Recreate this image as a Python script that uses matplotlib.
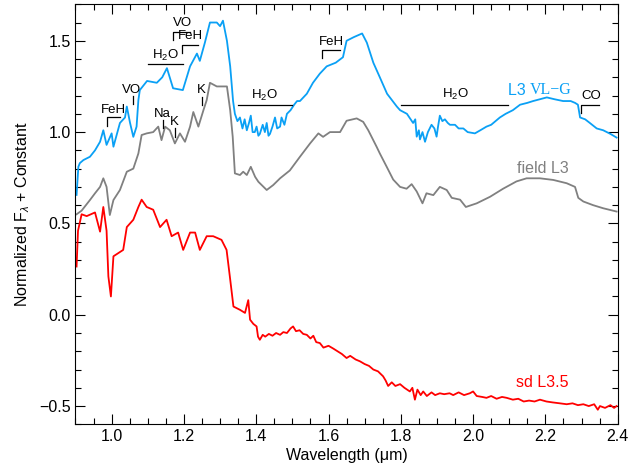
import matplotlib
matplotlib.use("Agg")
import matplotlib.pyplot as plt
from matplotlib.ticker import MultipleLocator

plt.rcParams['font.family'] = ['Liberation Sans', 'DejaVu Sans']
plt.rcParams['mathtext.fontset'] = 'custom'
plt.rcParams['mathtext.rm'] = 'Liberation Sans'
plt.rcParams['mathtext.it'] = 'Liberation Sans:italic'

# L3 VL-G (young) spectrum
wave_young = [0.903, 0.908, 0.912, 0.922, 0.940, 0.954, 0.968, 0.977, 0.986, 1.000,
              1.005, 1.023, 1.037, 1.042, 1.051, 1.060, 1.069, 1.074, 1.078, 1.098,
              1.125, 1.140, 1.153, 1.170, 1.197, 1.217, 1.236, 1.244, 1.258, 1.272,
              1.291, 1.300, 1.308, 1.319, 1.328, 1.336, 1.341, 1.348, 1.355, 1.362,
              1.368, 1.374, 1.380, 1.385, 1.390, 1.396, 1.401, 1.406, 1.410, 1.418,
              1.424, 1.429, 1.434, 1.438, 1.445, 1.452, 1.458, 1.466, 1.470, 1.478,
              1.485, 1.495, 1.505, 1.513, 1.521, 1.540, 1.557, 1.576, 1.595, 1.620,
              1.640, 1.650, 1.670, 1.693, 1.706, 1.724, 1.742, 1.762, 1.789, 1.798,
              1.817, 1.834, 1.840, 1.844, 1.850, 1.853, 1.860, 1.867, 1.875, 1.885,
              1.893, 1.899, 1.903, 1.908, 1.915, 1.922, 1.930, 1.936, 1.950, 1.960,
              1.973, 1.985, 2.005, 2.020, 2.037, 2.050, 2.074, 2.090, 2.110, 2.130,
              2.150, 2.166, 2.185, 2.204, 2.225, 2.249, 2.270, 2.282, 2.290, 2.296,
              2.310, 2.323, 2.342, 2.360, 2.380, 2.397]
flux_young = [0.656, 0.81, 0.83, 0.847, 0.865, 0.90, 0.947, 1.01, 0.93, 0.993,
              0.92, 1.05, 1.08, 1.14, 1.05, 0.974, 1.03, 1.175, 1.23, 1.28,
              1.27, 1.30, 1.35, 1.24, 1.23, 1.36, 1.43, 1.39, 1.49, 1.60,
              1.60, 1.58, 1.61, 1.50, 1.36, 1.17, 1.10, 1.06, 1.08, 1.02,
              1.07, 1.01, 1.05, 1.09, 1.00, 1.00, 1.03, 0.98, 0.99, 1.04,
              1.00, 1.05, 0.98, 0.99, 1.03, 1.08, 1.02, 1.03, 1.08, 1.04,
              1.10, 1.12, 1.15, 1.17, 1.17, 1.21, 1.27, 1.32, 1.36, 1.38,
              1.41, 1.50, 1.52, 1.54, 1.49, 1.38, 1.30, 1.21, 1.14, 1.12,
              1.10, 1.05, 1.07, 0.975, 1.01, 0.96, 1.00, 0.947, 1.00, 1.04,
              1.02, 0.975, 1.03, 1.09, 1.06, 1.07, 1.05, 1.04, 1.04, 1.02,
              1.02, 1.00, 0.993, 1.01, 1.03, 1.04, 1.08, 1.10, 1.12, 1.15,
              1.16, 1.17, 1.18, 1.19, 1.18, 1.17, 1.17, 1.16, 1.15, 1.08,
              1.07, 1.05, 1.02, 1.01, 0.99, 0.97]

# field L3 spectrum
wave_field = [0.903, 0.917, 0.940, 0.954, 0.968, 0.977, 0.986, 0.995, 1.005, 1.023,
              1.042, 1.060, 1.074, 1.083, 1.097, 1.115, 1.129, 1.138, 1.148, 1.161,
              1.175, 1.189, 1.203, 1.217, 1.226, 1.240, 1.254, 1.263, 1.272, 1.291,
              1.319, 1.328, 1.335, 1.341, 1.355, 1.364, 1.374, 1.385, 1.397, 1.406,
              1.429, 1.447, 1.466, 1.493, 1.521, 1.549, 1.572, 1.585, 1.604, 1.632,
              1.650, 1.678, 1.696, 1.710, 1.733, 1.742, 1.761, 1.779, 1.798, 1.816,
              1.830, 1.844, 1.860, 1.871, 1.890, 1.908, 1.927, 1.941, 1.964, 1.980,
              2.010, 2.047, 2.083, 2.120, 2.148, 2.185, 2.222, 2.259, 2.282, 2.291,
              2.305, 2.332, 2.360, 2.397]
flux_field = [0.55, 0.57, 0.628, 0.665, 0.70, 0.747, 0.70, 0.546, 0.628, 0.683,
              0.783, 0.80, 0.883, 0.984, 0.993, 1.0, 1.03, 0.956, 1.03, 1.01,
              0.938, 0.993, 0.947, 1.03, 1.11, 1.03, 1.12, 1.175, 1.27, 1.25,
              1.25, 1.12, 0.974, 0.774, 0.765, 0.783, 0.765, 0.81, 0.755, 0.728,
              0.683, 0.71, 0.747, 0.79, 0.865, 0.938, 0.993, 0.974, 1.0, 1.0,
              1.062, 1.075, 1.056, 1.01, 0.92, 0.883, 0.81, 0.74, 0.70, 0.69,
              0.715, 0.675, 0.61, 0.665, 0.655, 0.70, 0.683, 0.64, 0.63, 0.59,
              0.61, 0.646, 0.69, 0.73, 0.747, 0.747, 0.738, 0.72, 0.70, 0.64,
              0.62, 0.60, 0.583, 0.565]

# sd L3.5 spectrum
wave_sub = [0.903, 0.907, 0.917, 0.931, 0.954, 0.968, 0.977, 0.986, 0.991, 0.998,
            1.005, 1.032, 1.042, 1.060, 1.074, 1.083, 1.097, 1.115, 1.134, 1.152,
            1.166, 1.184, 1.198, 1.217, 1.231, 1.244, 1.263, 1.281, 1.304, 1.318,
            1.327, 1.337, 1.355, 1.369, 1.378, 1.383, 1.392, 1.401, 1.405, 1.410,
            1.418, 1.425, 1.435, 1.445, 1.455, 1.466, 1.475, 1.485, 1.495, 1.502,
            1.510, 1.520, 1.530, 1.540, 1.550, 1.558, 1.566, 1.576, 1.586, 1.600,
            1.613, 1.625, 1.637, 1.650, 1.660, 1.675, 1.687, 1.700, 1.712, 1.724,
            1.737, 1.751, 1.758, 1.765, 1.775, 1.785, 1.798, 1.810, 1.825, 1.832,
            1.839, 1.846, 1.855, 1.862, 1.872, 1.885, 1.895, 1.908, 1.920, 1.935,
            1.945, 1.960, 1.975, 1.991, 2.000, 2.010, 2.025, 2.037, 2.050, 2.065,
            2.080, 2.093, 2.110, 2.125, 2.140, 2.155, 2.170, 2.185, 2.203, 2.220,
            2.240, 2.259, 2.275, 2.290, 2.305, 2.320, 2.335, 2.345, 2.351, 2.365,
            2.380, 2.390, 2.397]
flux_sub = [0.264, 0.46, 0.55, 0.54, 0.56, 0.455, 0.59, 0.46, 0.21, 0.10,
            0.32, 0.355, 0.48, 0.52, 0.59, 0.63, 0.59, 0.575, 0.48, 0.52,
            0.43, 0.45, 0.355, 0.45, 0.45, 0.355, 0.43, 0.43, 0.41, 0.355,
            0.21, 0.045, 0.027, 0.01, 0.08, -0.027, -0.05, -0.064, -0.12, -0.137,
            -0.11, -0.12, -0.105, -0.115, -0.10, -0.11, -0.095, -0.10, -0.075, -0.064,
            -0.09, -0.085, -0.105, -0.11, -0.13, -0.115, -0.15, -0.155, -0.18, -0.17,
            -0.185, -0.20, -0.215, -0.237, -0.225, -0.245, -0.255, -0.27, -0.28, -0.30,
            -0.31, -0.337, -0.36, -0.39, -0.37, -0.39, -0.38, -0.40, -0.42, -0.40,
            -0.465, -0.41, -0.44, -0.42, -0.445, -0.425, -0.44, -0.43, -0.435, -0.43,
            -0.44, -0.425, -0.44, -0.43, -0.42, -0.445, -0.45, -0.455, -0.445, -0.46,
            -0.45, -0.455, -0.465, -0.46, -0.475, -0.47, -0.475, -0.465, -0.475, -0.48,
            -0.485, -0.49, -0.485, -0.495, -0.49, -0.50, -0.49, -0.52, -0.50, -0.51,
            -0.495, -0.51, -0.50]

# feature labels: (text, x, y)
feature_labels = [("FeH", 1.005, 1.122), ("VO", 1.055, 1.229), ("H$_2$O", 1.149, 1.422),
                  ("VO", 1.196, 1.595), ("FeH", 1.217, 1.524), ("Na", 1.141, 1.10),
                  ("K", 1.174, 1.056), ("K", 1.249, 1.232), ("H$_2$O", 1.424, 1.198),
                  ("FeH", 1.608, 1.496), ("H$_2$O", 1.95, 1.204), ("CO", 2.326, 1.198)]
# feature marker lines: (x points, y points)
feature_lines = [([0.988, 0.988, 1.023], [1.033, 1.08, 1.08]),
                 ([1.06, 1.06], [1.153, 1.197]),
                 ([1.10, 1.198], [1.372, 1.372]),
                 ([1.169, 1.169, 1.217], [1.503, 1.548, 1.548]),
                 ([1.194, 1.194, 1.24], [1.432, 1.479, 1.479]),
                 ([1.141, 1.141], [1.022, 1.066]),
                 ([1.175, 1.175], [0.973, 1.022]),
                 ([1.249, 1.249], [1.148, 1.191]),
                 ([1.35, 1.50], [1.151, 1.151]),
                 ([1.581, 1.581, 1.632], [1.404, 1.448, 1.448]),
                 ([1.80, 2.096], [1.151, 1.151]),
                 ([2.298, 2.298, 2.348], [1.104, 1.151, 1.151])]

fig = plt.figure(figsize=(6.29, 4.72), dpi=100)
ax = fig.add_axes([0.12, 0.101, 0.862, 0.890])

ax.plot(wave_young, flux_young, color='#0aa0f5', lw=1.3)
ax.plot(wave_field, flux_field, color='#808080', lw=1.3)
ax.plot(wave_sub, flux_sub, color='#ff0000', lw=1.3)

for xs, ys in feature_lines:
    ax.plot(xs, ys, color='black', lw=0.9)
for txt, x, y in feature_labels:
    ax.text(x, y, txt, fontsize=9.5, ha='center', va='center')

t1 = ax.text(2.096, 1.23, "L3 ", fontsize=11.5, color='#0aa0f5', va='center')
ax.annotate("VL\u2212G", xy=(1, 0.5), xycoords=t1, va='center', ha='left',
            fontsize=11.5, color='#0aa0f5', family='Liberation Serif')
ax.text(2.121, 0.80, "field L3", fontsize=11.5, color='#808080', va='center')
ax.text(2.118, -0.37, "sd L3.5", fontsize=11.5, color='#ff0000', va='center')

ax.set_xlim(0.9, 2.4)
ax.set_ylim(-0.6, 1.7)
ax.xaxis.set_major_locator(MultipleLocator(0.2))
ax.xaxis.set_minor_locator(MultipleLocator(0.05))
ax.yaxis.set_major_locator(MultipleLocator(0.5))
ax.yaxis.set_minor_locator(MultipleLocator(0.1))
ax.xaxis.set_major_formatter(matplotlib.ticker.FormatStrFormatter('%.1f'))
ax.yaxis.set_major_formatter(matplotlib.ticker.FuncFormatter(
    lambda v, p: ('%.1f' % v).replace('-', '\u2212')))
ax.tick_params(which='both', direction='in', top=True, right=True, labelsize=11.5)
ax.tick_params(which='major', length=7, width=0.8)
ax.tick_params(which='minor', length=4, width=0.8)
for s in ax.spines.values():
    s.set_linewidth(0.8)

ax.set_xlabel("Wavelength (\u03bcm)", fontsize=11.5, labelpad=3)
ax.set_ylabel("Normalized F$_\\lambda$ + Constant", fontsize=11.5, labelpad=5)

fig.savefig("out.png", dpi=100)
